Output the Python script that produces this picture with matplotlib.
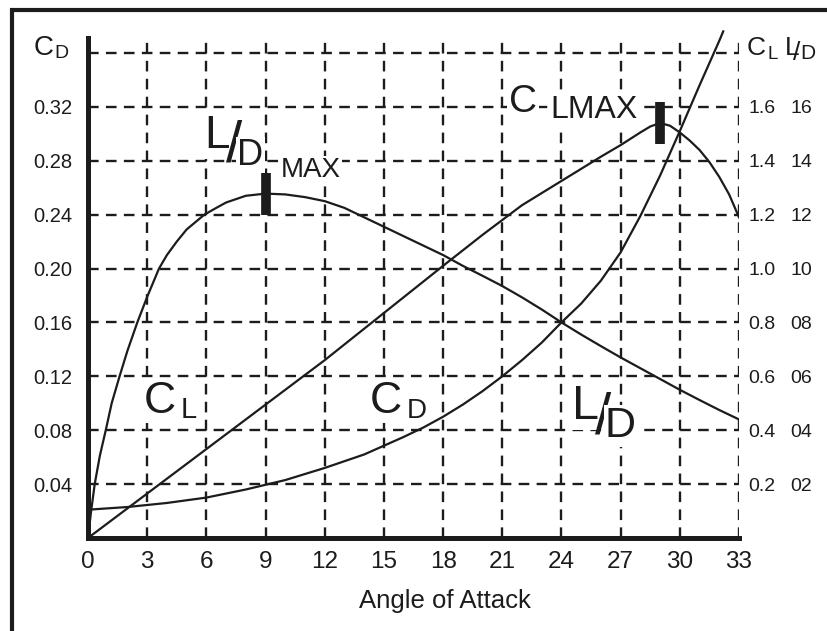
import matplotlib.pyplot as plt
from matplotlib.lines import Line2D
import numpy as np

plt.rcParams['font.family'] = ['Liberation Sans', 'DejaVu Sans']

# ── data ──────────────────────────────────────────────
cd_angle = [0, 2, 4, 6, 8, 10, 12, 14, 16, 17, 18, 19, 20, 21, 22, 23, 24,
            25, 26, 27, 28, 29, 30, 31, 32, 32.2]
cd = [0.021, 0.023, 0.026, 0.030, 0.036, 0.043, 0.052, 0.062, 0.075, 0.082,
      0.090, 0.099, 0.109, 0.120, 0.132, 0.145, 0.160, 0.174, 0.191, 0.212,
      0.239, 0.269, 0.302, 0.336, 0.369, 0.376]

cl_angle = [0, 3, 6, 9, 12, 15, 18, 20, 22, 23, 24, 25, 26, 27, 28, 28.5,
            29, 29.5, 30, 30.5, 31, 31.5, 32, 32.5, 33]
cl = [0, 0.165, 0.33, 0.495, 0.66, 0.835, 1.01, 1.125, 1.235, 1.28, 1.325,
      1.37, 1.415, 1.458, 1.505, 1.527, 1.54, 1.53, 1.505, 1.475, 1.44,
      1.395, 1.34, 1.275, 1.19]

ld_angle = [0, 0.15, 0.34, 0.6, 0.9, 1.2, 1.6, 2.0, 2.5, 3, 3.6, 4, 4.5, 5,
            5.9, 6.5, 7, 8, 9, 10, 11, 12, 13, 14, 15, 16, 17, 18, 19, 20,
            21, 22, 23, 24, 25, 26, 27, 28, 29, 30, 31, 32, 33]
ld = [0, 0.95, 2.0, 3.05, 4.0, 5.0, 6.0, 6.95, 8.0, 8.95, 10.0, 10.5, 11.0,
      11.45, 12.0, 12.25, 12.45, 12.7, 12.78, 12.75, 12.65, 12.5, 12.25,
      11.9, 11.55, 11.2, 10.85, 10.5, 10.1, 9.73, 9.35, 8.93, 8.48, 8.0,
      7.55, 7.12, 6.7, 6.3, 5.9, 5.5, 5.12, 4.75, 4.4]

x_ticks = list(range(0, 34, 3))
cd_ticks = [0.04, 0.08, 0.12, 0.16, 0.20, 0.24, 0.28, 0.32]
cd_grid = cd_ticks + [0.36]
cl_ticks = [0.2, 0.4, 0.6, 0.8, 1.0, 1.2, 1.4, 1.6]
ld_ticks = [2, 4, 6, 8, 10, 12, 14, 16]

# ── layout ────────────────────────────────────────────
W, H = 828, 631
ink = '#1c1c1c'
ytop = 0.38
grid_top = 0.371
bar_half = 0.0156  # half height of the max markers, in C_D units

fig = plt.figure(figsize=(W / 100, H / 100), dpi=100)
ax = fig.add_axes([88 / W, (H - 538) / H, 651 / W, 512 / H])
ax.set_xlim(0, 33)
ax.set_ylim(0, ytop)

dash = (0, (4.5, 3.1))
ax.hlines(cd_grid, 0, 33, colors=ink, lw=1.7, linestyles=[dash], zorder=1)
ax.vlines(x_ticks[1:], 0, grid_top, colors=ink, lw=1.7, linestyles=[dash], zorder=1)

for s in ['top', 'right']:
    ax.spines[s].set_visible(False)
ax.spines['left'].set_bounds(0, grid_top)
ax.spines['bottom'].set_bounds(0, 33)
for s in ['left', 'bottom']:
    ax.spines[s].set_linewidth(3.6)
    ax.spines[s].set_color(ink)
    ax.spines[s].set_zorder(5)

ax.set_xticks(x_ticks)
ax.set_xticklabels([str(t) for t in x_ticks])
ax.set_yticks(cd_ticks)
ax.set_yticklabels([f'{t:.2f}' for t in cd_ticks])
ax.tick_params(axis='x', length=0, pad=9, labelsize=17.5, labelcolor=ink)
ax.tick_params(axis='y', length=0, pad=11, labelsize=14.5, labelcolor=ink)

ax.plot(cd_angle, cd, color=ink, lw=1.6, zorder=3)

# C_L on its own right scale
ax_cl = ax.twinx()
ax_cl.set_ylim(0, ytop * 5)
ax_cl.set_yticks(cl_ticks)
ax_cl.set_yticklabels([f'{t:.1f}' for t in cl_ticks])
ax_cl.tick_params(axis='y', length=0, pad=6.5, labelsize=14, labelcolor=ink)
ax_cl.plot(cl_angle, cl, color=ink, lw=1.6, zorder=3)
i = int(np.argmax(cl))
ax_cl.vlines(cl_angle[i], cl[i] - bar_half * 5, cl[i] + bar_half * 5,
             colors=ink, lw=7, zorder=4)

# L/D on its own right scale
ax_ld = ax.twinx()
ax_ld.set_ylim(0, ytop * 50)
ax_ld.set_yticks(ld_ticks)
ax_ld.set_yticklabels([f'{t:02d}' for t in ld_ticks])
ax_ld.tick_params(axis='y', length=0, pad=37, labelsize=14, labelcolor=ink)
ax_ld.plot(ld_angle, ld, color=ink, lw=1.6, zorder=3)
i = int(np.argmax(ld))
ax_ld.vlines(ld_angle[i], ld[i] - bar_half * 50, ld[i] + bar_half * 50,
             colors=ink, lw=7, zorder=4)

for a in (ax_cl, ax_ld):
    for s in a.spines.values():
        s.set_visible(False)


# ── text labels (placed by image pixels) ─────────────
def put(px, py, s, size, box=True, ha='left'):
    kw = dict(transform=fig.transFigure, fontsize=size, color=ink,
              ha=ha, va='baseline', zorder=2.5)
    if box:
        kw['bbox'] = dict(facecolor='white', edgecolor='none', pad=1)
    ax.text(px / W, 1 - py / H, s, **kw)


# axis headers
put(34, 55, 'C', 20, box=False)
put(54, 58, 'D', 14, box=False)
put(747, 55, 'C', 19, box=False)
put(768, 59, 'L', 13.5, box=False)
put(785, 55, 'L', 19, box=False)
put(793, 60, '/', 19, box=False)
put(800, 59, 'D', 15, box=False)

# L/D max
put(204, 148, 'L', 33)
put(226, 162, '/', 42, box=False)
put(237, 165, 'D', 26)
put(281, 177, 'MAX', 20)

# C_L max
put(509, 112, 'C', 28)
put(550, 118, 'LMAX', 23)

# curve names
put(144, 413, 'C', 32)
put(181, 418, 'L', 21)
put(370, 413, 'C', 32)
put(407, 418, 'D', 20)
put(572, 419, 'L', 35)
put(595, 433, '/', 42, box=False)
put(605, 437, 'D', 31)

put(445, 608, 'Angle of Attack', 18.5, box=False, ha='center')

# outer frame (left and top edges only show)
fig.add_artist(Line2D([11.7 / W, 11.7 / W, 1.02], [-0.02, 1 - 10.3 / H, 1 - 10.3 / H],
                      transform=fig.transFigure, color=ink, lw=3,
                      solid_joinstyle='miter'))

fig.savefig('out.png', dpi=100)
